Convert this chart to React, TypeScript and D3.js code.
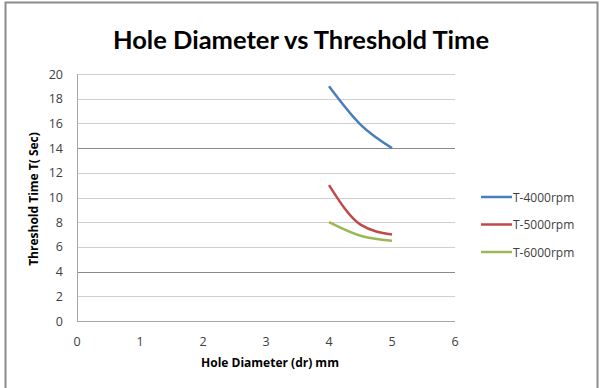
import React, { useEffect, useRef } from "react";
import * as d3 from "d3";

// hole diameter (mm) and threshold times
const diameters = [4, 4.5, 5];
const t4000 = [19, 15.9, 14];
const t5000 = [11, 7.8, 7];
const t6000 = [8, 6.9, 6.5];

const seriesNames = ["T-4000rpm", "T-5000rpm", "T-6000rpm"];
const seriesColors = ["#4a7ebb", "#be4b48", "#98b954"];
const xTicks = [0, 1, 2, 3, 4, 5, 6];
const yTicks = [0, 2, 4, 6, 8, 10, 12, 14, 16, 18, 20];

const App: React.FC = () => {
  const ref = useRef<SVGSVGElement | null>(null);

  useEffect(() => {
    if (!ref.current) return;
    const width = 603;
    const height = 388;
    const svg = d3.select(ref.current);
    svg.selectAll("*").remove();
    svg.attr("width", width).attr("height", height);

    const titleFont = "Lato, 'Open Sans', sans-serif";
    const font = "'Open Sans', Lato, sans-serif";

    // chart frame
    svg.append("rect")
      .attr("x", 5.5).attr("y", 2.5)
      .attr("width", 592).attr("height", 400)
      .attr("fill", "#fff")
      .attr("stroke", "#8c8c8c")
      .attr("stroke-width", 2);

    const x = d3.scaleLinear().domain([0, 6]).range([77, 455]);
    const y = d3.scaleLinear().domain([0, 20]).range([321, 74]);

    // gridlines (4 and 14 come out darker in the original)
    yTicks.forEach(t => {
      svg.append("line")
        .attr("x1", x(0)).attr("x2", x(6))
        .attr("y1", Math.round(y(t)) + 0.5).attr("y2", Math.round(y(t)) + 0.5)
        .attr("stroke", t === 4 || t === 14 ? "#8a8a8a" : t === 0 ? "#a6a6a6" : "#d0d0d0")
        .attr("stroke-width", 1);
    });
    svg.append("line")
      .attr("x1", x(0) + 0.5).attr("x2", x(0) + 0.5)
      .attr("y1", y(20)).attr("y2", y(0))
      .attr("stroke", "#a6a6a6");

    // tick labels
    yTicks.forEach(t => {
      svg.append("text")
        .attr("x", 63).attr("y", y(t))
        .attr("text-anchor", "end")
        .attr("dominant-baseline", "central")
        .attr("font-family", font).attr("font-size", 12.5)
        .attr("fill", "#404040")
        .text(t);
    });
    xTicks.forEach(t => {
      svg.append("text")
        .attr("x", x(t)).attr("y", 341)
        .attr("text-anchor", "middle")
        .attr("dominant-baseline", "central")
        .attr("font-family", font).attr("font-size", 12.5)
        .attr("fill", "#404040")
        .text(t);
    });

    // title and axis labels
    svg.append("text")
      .attr("x", 301).attr("y", 49)
      .attr("text-anchor", "middle")
      .attr("font-family", titleFont).attr("font-weight", "bold")
      .attr("font-size", 25.5).attr("fill", "#000")
      .text("Hole Diameter vs Threshold Time");
    svg.append("text")
      .attr("x", 270).attr("y", 367)
      .attr("text-anchor", "middle")
      .attr("font-family", font).attr("font-weight", "bold")
      .attr("font-size", 12).attr("fill", "#000")
      .text("Hole Diameter (dr) mm");
    svg.append("text")
      .attr("transform", `translate(38,199) rotate(-90)`)
      .attr("text-anchor", "middle")
      .attr("font-family", font).attr("font-weight", "bold")
      .attr("font-size", 12).attr("fill", "#000")
      .text("Threshold Time T( Sec)");

    // series
    const series = [t4000, t5000, t6000];
    const line = d3.line<number>()
      .x((_, i) => x(diameters[i]))
      .y(d => y(d))
      .curve(d3.curveMonotoneX);
    series.forEach((vals, si) => {
      svg.append("path")
        .attr("d", line(vals) || "")
        .attr("fill", "none")
        .attr("stroke", seriesColors[si])
        .attr("stroke-width", 2.5);
    });

    // legend
    seriesNames.forEach((name, i) => {
      const ly = 197 + i * 27.5;
      svg.append("line")
        .attr("x1", 481).attr("x2", 512)
        .attr("y1", ly).attr("y2", ly)
        .attr("stroke", seriesColors[i])
        .attr("stroke-width", 2.5);
      svg.append("text")
        .attr("x", 513).attr("y", ly)
        .attr("dominant-baseline", "central")
        .attr("font-family", font).attr("font-size", 12)
        .attr("fill", "#404040")
        .text(name);
    });
  }, []);

  return <svg ref={ref} style={{ position: "absolute", left: 0, top: 0 }} />;
};

export default App;
